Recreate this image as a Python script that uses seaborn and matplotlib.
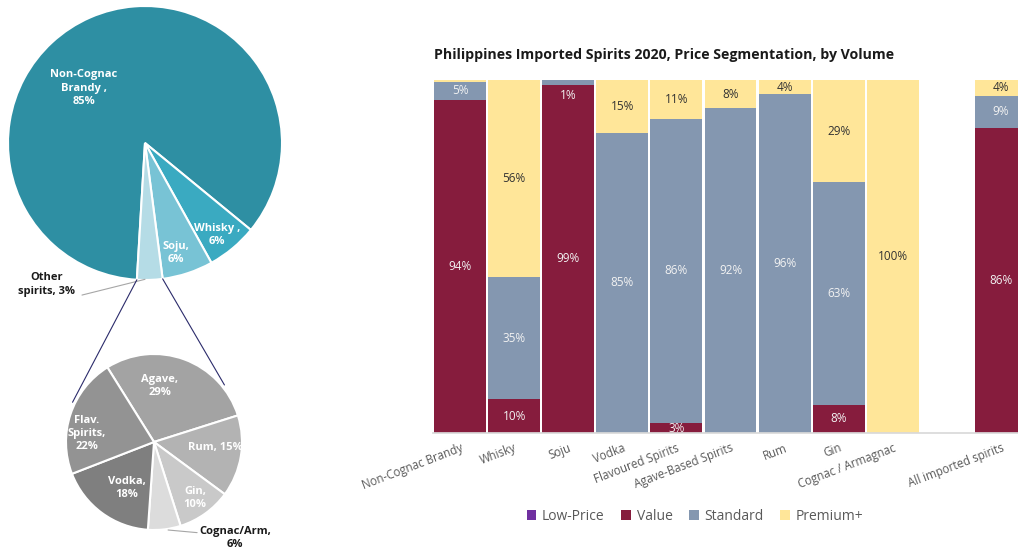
import numpy as np
import pandas as pd
import matplotlib
matplotlib.use("Agg")
import matplotlib.pyplot as plt
from matplotlib.patches import ConnectionPatch, Patch
import seaborn as sns

sns.set_theme(style="white")
plt.rcParams['font.family'] = ['Open Sans', 'DejaVu Sans']

# ---------------- data ----------------
pie_labels = ["Non-Cognac\nBrandy ,\n85%", "Whisky ,\n6%", "Soju,\n6%", "Other\nspirits, 3%"]
pie_values = [85, 6, 6, 3]
pie_colors = ["#2E8FA3", "#3AAAC1", "#78C3D5", "#B5DCE6"]

sub_labels = ["Agave,\n29%", "Rum, 15%", "Gin,\n10%", "Cognac/Arm,\n6%", "Vodka,\n18%", "Flav.\nSpirits,\n22%"]
sub_values = [29, 15, 10, 6, 18, 22]
sub_colors = ["#A3A3A3", "#B3B3B3", "#C9C9C9", "#DCDCDC", "#7F7F7F", "#939393"]

categories = ["Non-Cognac Brandy", "Whisky", "Soju", "Vodka", "Flavoured Spirits",
              "Agave-Based Spirits", "Rum", "Gin", "Cognac / Armagnac", " ", "All imported spirits"]
low_price = [0, 0, 0, 0, 0, 0, 0, 0, 0, 0, 0]
value     = [94.4, 9.6, 98.7, 0, 2.8, 0, 0, 8, 0, 0, 86.4]
standard  = [5.0, 34.6, 1.3, 85, 86.2, 92, 96, 63, 0, 0, 9.2]
premium   = [0.6, 55.8, 0, 15, 11, 8, 4, 29, 100, 0, 4.4]
series_names = ["Low-Price", "Value", "Standard", "Premium+"]
series_colors = ["#7030A0", "#861C3D", "#8497B0", "#FFE699"]
label_colors = ["#FFFFFF", "#F2F2F2", "#F2F2F2", "#333333"]

W, H = 1018, 550
fig = plt.figure(figsize=(W / 100, H / 100), dpi=100)

def px_axes(left, top, w, h):
    return fig.add_axes([left / W, (H - top - h) / H, w / W, h / H])

# ---------------- top pie ----------------
ax1 = px_axes(8, 6, 274, 274)
w1, _ = ax1.pie(pie_values, colors=pie_colors, startangle=266.6, counterclock=False,
                wedgeprops=dict(edgecolor="white", linewidth=1.5))
ax1.set_xlim(-1, 1); ax1.set_ylim(-1, 1); ax1.set_aspect("equal"); ax1.axis("off")
top_pos = [(-0.445, 0.401), (0.526, -0.672), (0.226, -0.803), (-0.72, -1.03)]
for i, (lab, (x, y)) in enumerate(zip(pie_labels, top_pos)):
    col = "#1A1A1A" if i == 3 else "white"
    ax1.text(x, y, lab, ha="center", va="center", fontsize=8, fontweight="bold",
             color=col, linespacing=1.35, clip_on=False)
ax1.plot([-0.46, 0.0], [-1.11, -0.995], color="#A6A6A6", lw=0.8, clip_on=False)

# ---------------- bottom pie ----------------
ax2 = px_axes(66, 354, 176, 176)
w2, _ = ax2.pie(sub_values, colors=sub_colors, startangle=122, counterclock=False,
                wedgeprops=dict(edgecolor="white", linewidth=1.5))
ax2.set_xlim(-1, 1); ax2.set_ylim(-1, 1); ax2.set_aspect("equal"); ax2.axis("off")
sub_pos = [(0.068, 0.636), (0.693, -0.057), (0.466, -0.636), (0.92, -1.09),
           (-0.307, -0.523), (-0.761, 0.102)]
for i, (lab, (x, y)) in enumerate(zip(sub_labels, sub_pos)):
    col = "#1A1A1A" if i == 3 else "white"
    ax2.text(x, y, lab, ha="center", va="center", fontsize=8, fontweight="bold",
             color=col, linespacing=1.25, clip_on=False)
ax2.plot([0.16, 0.49], [-1.0, -1.03], color="#A6A6A6", lw=0.8, clip_on=False)

# connector lines between "Other spirits" slice and the breakdown pie
oth = w1[3]
t_a, t_b = sorted([oth.theta1, oth.theta2])
for th_top, th_bot in [(t_a, 154), (t_b, 39)]:
    p1 = (np.cos(np.radians(th_top)), np.sin(np.radians(th_top)))
    p2 = (1.03 * np.cos(np.radians(th_bot)), 1.03 * np.sin(np.radians(th_bot)))
    con = ConnectionPatch(xyA=p1, coordsA=ax1.transData, xyB=p2, coordsB=ax2.transData,
                          color="#2B2B6B", lw=0.8)
    fig.add_artist(con)

# ---------------- stacked bar chart ----------------
ax = px_axes(433, 80, 595, 353)
df = pd.DataFrame({"category": categories, "Low-Price": low_price, "Value": value,
                   "Standard": standard, "Premium+": premium})
vals = df[series_names].to_numpy(dtype=float)
cum = np.cumsum(vals, axis=1)
for j in range(len(series_names) - 1, -1, -1):
    sns.barplot(x=df["category"], y=cum[:, j], color=series_colors[j], width=0.96,
                saturation=1, linewidth=0, ax=ax, order=categories)

for i in range(len(categories)):
    for j in range(len(series_names)):
        v = vals[i, j]
        if v < 1:
            continue
        bottom = cum[i, j] - v
        yc = bottom + v / 2
        if v < 2:
            yc = bottom - 3
        ax.text(i, yc, f"{v:.0f}%", ha="center", va="center", fontsize=8.5,
                color=label_colors[j])

ax.set_xlim(-0.5, len(categories) - 0.5)
ax.set_ylim(0, 100)
ax.set_xlabel(""); ax.set_ylabel("")
ax.set_yticks([])
for s in ["top", "left", "right"]:
    ax.spines[s].set_visible(False)
ax.spines["bottom"].set_color("#D9D9D9")
ax.tick_params(axis="x", length=0, pad=6)
ax.set_xticks(range(len(categories)))
ax.set_xticklabels(categories, rotation=21, ha="right", rotation_mode="anchor",
                   fontsize=8.3, color="#595959")

fig.text(664 / W, 1 - 55 / H, "Philippines Imported Spirits 2020, Price Segmentation, by Volume",
         ha="center", va="center", fontsize=10.2, fontweight="bold", color="#1A1A1A")

handles = [Patch(facecolor=c, edgecolor="none", label=n) for n, c in zip(series_names, series_colors)]
fig.legend(handles=handles, loc="center", bbox_to_anchor=(695 / W, 1 - 516 / H), ncol=4,
           frameon=False, fontsize=10, labelcolor="#595959", handlelength=0.7,
           handleheight=0.7, handletextpad=0.4, columnspacing=1.2)

fig.savefig("out.png", dpi=100)
